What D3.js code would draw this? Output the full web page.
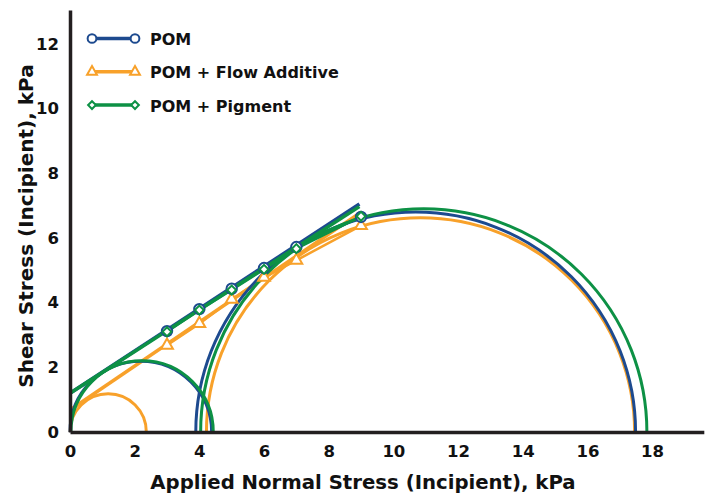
<!DOCTYPE html>
<html>
<head>
<meta charset="utf-8">
<script src="https://cdn.jsdelivr.net/npm/d3@7"></script>
<style>
  body { margin: 0; background: #fff; }
  svg text { font-family: "DejaVu Sans", sans-serif; font-weight: bold; fill: #111; }
</style>
</head>
<body>
<svg id="chart" width="709" height="498"></svg>
<script>
// measured points (normal stress, shear stress), kPa
const seriesNames = ["POM + Flow Additive", "POM", "POM + Pigment"];
const pointX = [3, 4, 5, 6, 7, 9];
const pomY = [3.12, 3.80, 4.43, 5.07, 5.72, 6.65];
const flowY = [2.68, 3.35, 4.10, 4.78, 5.31, 6.38];
const pigmentY = [3.10, 3.77, 4.39, 5.03, 5.67, 6.67];

// yield locus fit lines: [x0, y0, x1, y1]
const pomFit = [0, 1.20, 8.95, 7.05];
const flowFit = [0, 0.68, 9.0, 6.80];
const pigmentFit = [0, 1.20, 8.95, 6.97];

// Mohr circles: [centre, radius]
const pomCircles = [[2.19, 2.19], [10.69, 6.80]];
const flowCircles = [[1.18, 1.18], [10.84, 6.62]];
const pigmentCircles = [[2.23, 2.20], [10.94, 6.90]];

const xTicks = [0, 2, 4, 6, 8, 10, 12, 14, 16, 18];
const yTicks = [0, 2, 4, 6, 8, 10, 12];

const blue = "#1d4a8f", orange = "#f8a12a", green = "#0d9145";

const svg = d3.select("#chart");
const mLeft = 70, mTop = 10, mBottom = 432;
const k = (mBottom - mTop) / 13.05;  // px per kPa, same on both axes
const x = d3.scaleLinear().domain([0, 19.6]).range([mLeft, mLeft + 19.6 * k]);
const y = d3.scaleLinear().domain([0, 13.05]).range([mBottom, mTop]);

// series, drawn orange -> blue -> green
const series = [
    { name: seriesNames[0], color: orange, ys: flowY, fit: flowFit, circles: flowCircles, shape: "triangle" },
    { name: seriesNames[1], color: blue, ys: pomY, fit: pomFit, circles: pomCircles, shape: "circle" },
    { name: seriesNames[2], color: green, ys: pigmentY, fit: pigmentFit, circles: pigmentCircles, shape: "diamond" }
];

const markerPath = {
    circle: d3.symbol(d3.symbolCircle, 85)(),
    triangle: d3.symbol(d3.symbolTriangle, 60)(),
    diamond: d3.symbol(d3.symbolSquare, 40)()
};
const legendMarker = {
    circle: d3.symbol(d3.symbolCircle, 60)(),
    triangle: d3.symbol(d3.symbolTriangle, 42)(),
    diamond: d3.symbol(d3.symbolSquare, 30)()
};

const lineGen = d3.line().x(d => x(d[0])).y(d => y(d[1]));

series.forEach(s => {
    const g = svg.append("g");

    // Mohr semicircles
    g.selectAll("path.circle")
        .data(s.circles)
        .enter()
        .append("path")
        .attr("class", "circle")
        .attr("d", d => {
            const p = d3.path();
            p.moveTo(x(d[0] - d[1]), y(0));
            p.arc(x(d[0]), y(0), d[1] * k, Math.PI, 2 * Math.PI);
            return p.toString();
        })
        .attr("fill", "none")
        .attr("stroke", s.color)
        .attr("stroke-width", 3);

    // fit line
    g.append("path")
        .attr("d", lineGen([[s.fit[0], s.fit[1]], [s.fit[2], s.fit[3]]]))
        .attr("fill", "none")
        .attr("stroke", s.color)
        .attr("stroke-width", 3.5);

    // data line
    const pts = pointX.map((v, i) => [v, s.ys[i]]);
    g.append("path")
        .attr("d", lineGen(pts))
        .attr("fill", "none")
        .attr("stroke", s.color)
        .attr("stroke-width", 2.5);
});

// markers on top, same order
series.forEach(s => {
    const pts = pointX.map((v, i) => [v, s.ys[i]]);
    svg.append("g")
        .selectAll("path")
        .data(pts)
        .enter()
        .append("path")
        .attr("d", markerPath[s.shape])
        .attr("transform", d => "translate(" + x(d[0]) + "," + y(d[1]) + ")" + (s.shape == "diamond" ? " rotate(45)" : ""))
        .attr("fill", "#fff")
        .attr("stroke", s.color)
        .attr("stroke-width", 2);
});

// axes
const xAxis = svg.append("g")
    .attr("transform", "translate(0," + mBottom + ")")
    .call(d3.axisBottom(x).tickValues(xTicks).tickSize(0).tickPadding(13).tickFormat(d3.format("d")));
const yAxis = svg.append("g")
    .attr("transform", "translate(" + mLeft + ",0)")
    .call(d3.axisLeft(y).tickValues(yTicks).tickSize(0).tickPadding(11).tickFormat(d3.format("d")));

[xAxis, yAxis].forEach(a => {
    a.select(".domain").attr("stroke", "#231f20").attr("stroke-width", 3.5);
    a.selectAll("text").style("font-size", "16.5px").attr("fill", "#111")
        .style("font-family", "'DejaVu Sans', sans-serif").style("font-weight", "bold");
});

svg.append("text")
    .attr("x", 363).attr("y", 489)
    .attr("text-anchor", "middle")
    .style("font-size", "19.7px")
    .text("Applied Normal Stress (Incipient), kPa");

svg.append("text")
    .attr("transform", "translate(33,226) rotate(-90)")
    .attr("text-anchor", "middle")
    .style("font-size", "20px")
    .text("Shear Stress (Incipient), kPa");

// legend
const legendOrder = [series[1], series[0], series[2]];
const legend = svg.append("g")
    .selectAll("g")
    .data(legendOrder)
    .enter()
    .append("g")
    .attr("transform", (d, i) => "translate(0," + (38.5 + i * 33.3) + ")");

legend.append("line")
    .attr("x1", 92).attr("x2", 135)
    .attr("stroke", d => d.color)
    .attr("stroke-width", 3.5);

legend.selectAll("path")
    .data(d => [[92, d], [135, d]])
    .enter()
    .append("path")
    .attr("d", d => legendMarker[d[1].shape])
    .attr("transform", d => "translate(" + d[0] + ",0)" + (d[1].shape == "diamond" ? " rotate(45)" : ""))
    .attr("fill", "#fff")
    .attr("stroke", d => d[1].color)
    .attr("stroke-width", 2);

legend.append("text")
    .attr("x", 150).attr("y", 6.5)
    .style("font-size", "16px")
    .text(d => d.name);
</script>
</body>
</html>
